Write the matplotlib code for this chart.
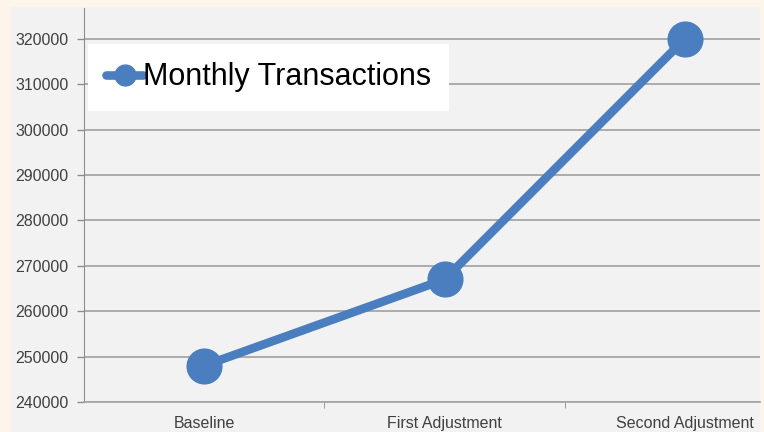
import matplotlib.pyplot as plt
from matplotlib.patches import Rectangle
from matplotlib.ticker import FixedLocator

plt.rcParams['font.family'] = ['Liberation Sans', 'DejaVu Sans']

categories = ["Baseline", "First Adjustment", "Second Adjustment"]
transactions = [248000, 267000, 320000]
yticks = [240000, 250000, 260000, 270000, 280000, 290000, 300000, 310000, 320000]

W, H = 764, 432
fig = plt.figure(figsize=(W / 100, H / 100), dpi=100)
fig.patch.set_facecolor("#fdf5e9")

# gray chart panel, behind the axes
fig.patches.append(Rectangle((11 / W, 0), (760 - 11) / W, (H - 7) / H,
                             transform=fig.transFigure, facecolor="#f2f2f2",
                             edgecolor="none", zorder=-10))

ax = fig.add_axes([84 / W, (H - 402) / H, (760 - 84) / W, (402 - 8) / H])
ax.set_facecolor("#f2f2f2")

x = list(range(len(categories)))
ax.plot(x, transactions, color="#4a7ebf", linewidth=6.2, marker="o",
        markersize=25, solid_capstyle="round", label="Monthly Transactions",
        zorder=3)

ax.set_xlim(-0.5, (760 - 85) / 240 - 0.5)
ax.set_ylim(240000, 326800)
ax.set_yticks(yticks)
ax.set_yticklabels([str(v) for v in yticks])
ax.set_xticks(x)
ax.set_xticklabels(categories)
ax.xaxis.set_minor_locator(FixedLocator([0.5, 1.5]))

ax.grid(axis="y", color="#a6a6a6", linewidth=1.3, zorder=1)
ax.tick_params(axis="y", colors="#8c8c8c", labelcolor="#404040",
               labelsize=11.5, length=5, width=1, pad=6)
ax.tick_params(axis="x", which="major", length=0, labelcolor="#404040",
               labelsize=11.5, pad=10)
ax.tick_params(axis="x", which="minor", length=4, color="#8c8c8c")

for side in ["top", "right"]:
    ax.spines[side].set_visible(False)
ax.spines["left"].set_color("#8c8c8c")
ax.spines["bottom"].set_color("#a6a6a6")
ax.spines["bottom"].set_linewidth(1.3)

leg = ax.legend(loc="upper left", bbox_to_anchor=(4 / 676, (394 - 36) / 394),
                borderaxespad=0, fontsize=22, frameon=True, fancybox=False,
                handlelength=1.2, handletextpad=0.0, borderpad=0.6,
                markerscale=0.6)
leg.get_frame().set_facecolor("white")
leg.get_frame().set_edgecolor("none")
leg.get_frame().set_alpha(1)

fig.savefig("out.png", dpi=100, facecolor=fig.get_facecolor())
